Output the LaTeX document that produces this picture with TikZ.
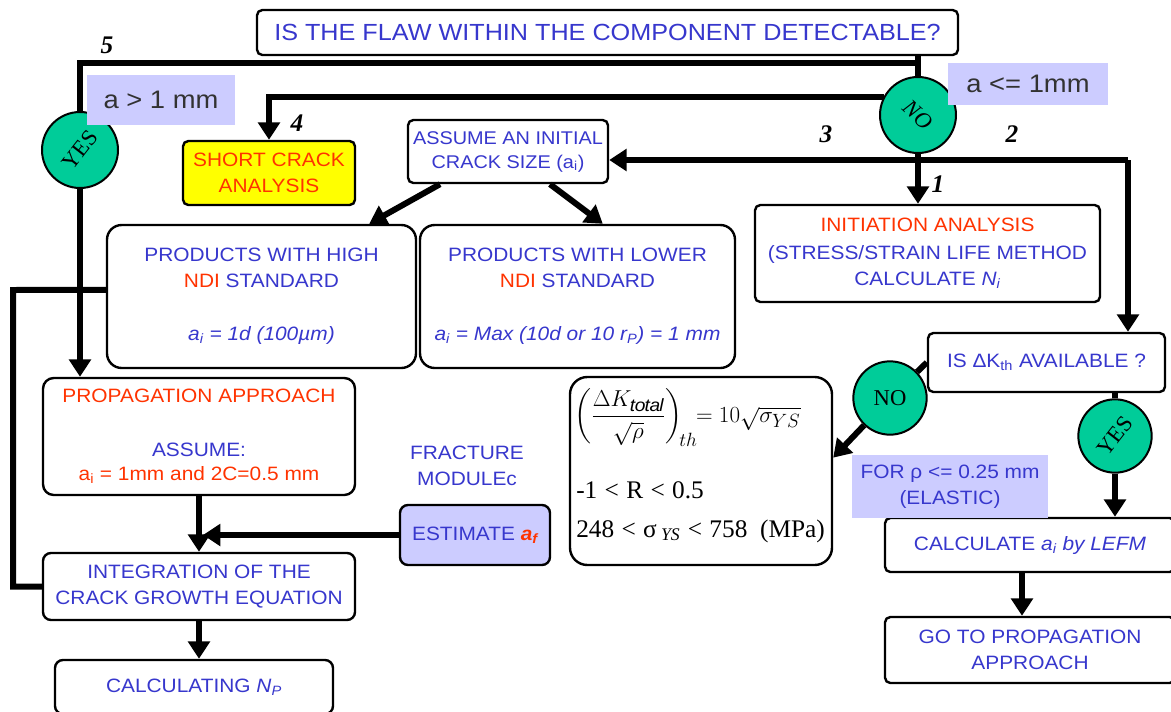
\documentclass[tikz,border=0pt]{standalone}
\usepackage{fontspec}
\usepackage{amsmath}
\usetikzlibrary{arrows.meta}
\setmainfont{Liberation Sans}[FakeStretch=1.08]
\newfontfamily\tnr{Liberation Serif}
\definecolor{blueT}{RGB}{55,55,205}
\definecolor{redT}{RGB}{255,51,0}
\definecolor{tealC}{RGB}{0,204,153}
\definecolor{lav}{RGB}{204,204,255}
\definecolor{yel}{RGB}{255,255,0}
\definecolor{grayT}{RGB}{50,50,50}
\newcommand\basefont{\fontsize{14.5}{19.5}\selectfont}
\newcommand\titlefont{\fontsize{17.5}{21}\selectfont}
\newcommand\labfont{\fontsize{19}{23}\selectfont}
\newcommand\numfont{\tnr\bfseries\itshape\fontsize{19}{22}\selectfont}
\newcommand\circfont{\tnr\fontsize{17}{20}\selectfont}
\newcommand\lsp{\hspace{5.5pt}}
\tikzset{
  wh/.style 2 args={minimum width=#1*0.75pt, minimum height=#2*0.75pt},
  box/.style={draw, line width=1.8pt, rounded corners=4pt, fill=white, align=center,
              text=blueT, font=\basefont, inner sep=2pt},
  rbox/.style={box, rounded corners=11pt},
  circ/.style={circle, draw, line width=1.5pt, fill=tealC, minimum size=57pt,
               inner sep=0pt, font=\circfont},
  lab/.style={fill=lav, align=center, inner sep=0pt},
  conn/.style={line width=4.5pt},
  arr/.style={conn, -{Triangle[length=13pt,width=16pt]}},
  num/.style={font=\numfont, inner sep=0pt},
  ftxt/.style={inner sep=0pt, font=\tnr\fontsize{19}{22}\selectfont}
}
\begin{document}
\begin{tikzpicture}[x=0.75pt,y=-0.75pt]
\useasboundingbox (0,0) rectangle (1171,711);

% ---------- boxes ----------
\node[box, font=\titlefont, wh={701}{45}] (title) at (607.5,32.5)
  {IS THE FLAW WITHIN THE COMPONENT DETECTABLE?};
\node[box, fill=yel, text=redT, wh={172}{64}] (short) at (269,173)
  {SHORT CRACK\\ANALYSIS};
\node[box, wh={200}{63}, font=\fontsize{13.8}{18}\selectfont] (assume) at (508,151.5)
  {ASSUME AN INITIAL\\CRACK SIZE (a\textsubscript{i})};
\node[box, wh={345}{97}, font=\fontsize{14.5}{19}\selectfont] (init) at (927.5,253.5)
  {\textcolor{redT}{INITIATION ANALYSIS}\\[2pt](STRESS/STRAIN LIFE METHOD\\CALCULATE {\itshape N\textsubscript{i}}};
\node[rbox, wh={309}{143}] (high) at (261.5,296.5)
  {PRODUCTS WITH HIGH\\\textcolor{redT}{NDI} STANDARD\\[20pt]{\itshape a\textsubscript{i} = 1d (100µm)}};
\node[rbox, wh={315}{143}] (low) at (577.5,296.5)
  {PRODUCTS WITH LOWER\\\textcolor{redT}{NDI} STANDARD\\[20pt]{\itshape a\textsubscript{i} = Max (10d or 10 r\textsubscript{P}) = 1 mm}};
\node[rbox, rounded corners=8pt, wh={312}{117}] (prop) at (199,436.5)
  {\textcolor{redT}{PROPAGATION APPROACH}\\[21pt]ASSUME:\\[-2pt]\textcolor{redT}{a\textsubscript{i} = 1mm and 2C=0.5 mm}};
\node[box, rounded corners=6pt, wh={312}{67}] (integ) at (199,586.5)
  {INTEGRATION OF THE\\CRACK GROWTH EQUATION};
\node[box, rounded corners=6pt, wh={278}{54}] (calc) at (194,687)
  {CALCULATING {\itshape N\textsubscript{P}}};
\node[box, fill=lav, rounded corners=6pt, wh={150}{60}] (est) at (475,535)
  {ESTIMATE \textcolor{redT}{\bfseries\itshape a\textsubscript{f}}};
\node[align=center, text=blueT, font=\basefont, inner sep=0pt] (fract) at (467,466)
  {FRACTURE\\MODULEc};
\node[rbox, rounded corners=13pt, wh={262}{188}] (fbox) at (701,471) {};
\node[ftxt, anchor=west] (f1) at (574,418)
  {$\left(\dfrac{\Delta K_{\mathit{total}}}{\sqrt{\rho}}\right)_{\!th}\hspace{-6pt}=10\sqrt{\sigma_{YS}}$};
\node[ftxt, anchor=base west] (f2) at (576,498)
  {-1\lsp<\lsp R\lsp<\lsp0.5};
\node[ftxt, anchor=base west] (f3) at (576,537)
  {248\lsp<\lsp σ\,\textsubscript{\itshape YS}\lsp<\lsp758\ \ (MPa)};
\node[box, wh={237}{59}] (isdk) at (1046.5,362.5)
  {IS ΔK\textsubscript{th} AVAILABLE ?};
\node[box, wh={290}{54}] (lefm) at (1030,545)
  {CALCULATE {\itshape a\textsubscript{i} by LEFM}};
\node[box, wh={290}{66}] (goprop) at (1030,650)
  {GO TO PROPAGATION\\APPROACH};

% ---------- decision circles ----------
\node[circ] (yes1) at (80,150) {\rotatebox{52}{YES}};
\node[circ] (no1) at (918,115) {\rotatebox{-42}{\itshape NO}};
\node[circ, minimum size=55pt] (no2) at (890,398) {NO};
\node[circ, minimum size=55pt] (yes2) at (1115,436) {\rotatebox{52}{YES}};

% ---------- connectors ----------
\coordinate (j5) at (918,63);
\coordinate (r2) at (1128,160);
\draw[conn] (title.south -| no1) -- (no1.north);
\draw[conn] (j5) -| (yes1.north);
\draw[arr] (yes1.south) -- (yes1.south |- prop.north);
\draw[arr] (no1.152) -| (short.north);
\draw[arr] (no1.south) -- (no1.south |- init.north);
\draw[arr] (r2) -- (r2 -| assume.east);
\draw[arr] (r2) -- (r2 |- isdk.north);
\draw[arr] ([xshift=-51pt]assume.south) -- ([xshift=-36pt]high.north east);
\draw[arr] ([xshift=31.5pt]assume.south) -- ([xshift=138pt]low.north west);
\coordinate (fb) at (13,290);
\draw[conn] ([yshift=5pt]high.west) -- (fb) |- (integ.west);
\draw[arr] (prop.south) -- (integ.north);
\draw[arr] (est.west) -- ([xshift=3pt]est.west -| prop.south);
\draw[arr] (integ.south) -- (integ.south |- calc.north);
\draw[conn] (isdk.west) -- (no2);
\draw[arr] (no2) -- ([yshift=10pt]fbox.east);
\draw[conn] (isdk.south -| yes2) -- (yes2);
\draw[arr] (yes2) -- (yes2 |- lefm.north);
\coordinate (lg) at (1022,545);
\draw[arr] (lg |- lefm.south) -- (lg |- goprop.north);

% ---------- labels ----------
\node[lab, text=grayT, font=\labfont, wh={148}{50}] (lgt) at (161,100) {a > 1 mm};
\node[lab, text=grayT, font=\labfont, wh={160}{42}] (lle) at (1028,84) {a <= 1mm};
\node[lab, text=blueT, font=\basefont, wh={196}{63}] (lrho) at (950,486.5)
  {FOR ρ <= 0.25 mm\\(ELASTIC)};
\node[num] (n5) at (107,45) {5};
\node[num] (n4) at (297,123) {4};
\node[num] (n3) at (826,134) {3};
\node[num] (n2) at (1012,134) {2};
\node[num] (n1) at (938,184) {1};
\end{tikzpicture}
\end{document}
